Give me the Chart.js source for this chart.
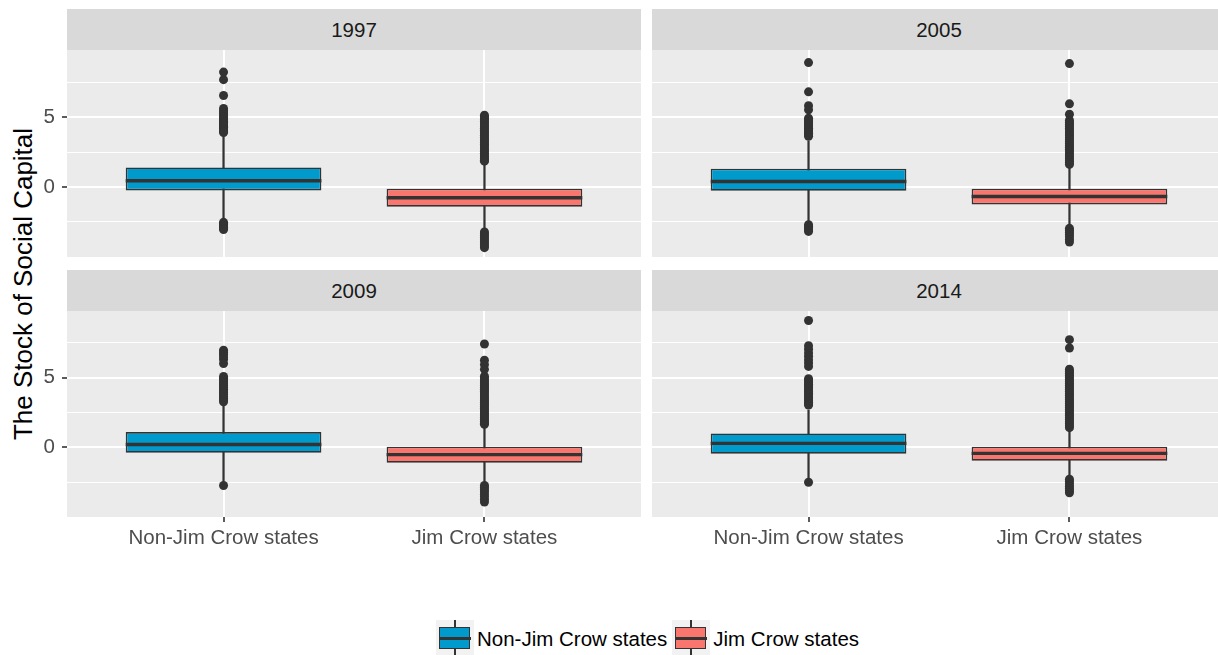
<!DOCTYPE html>
<html>
<head>
<meta charset="utf-8">
<script src="https://cdn.jsdelivr.net/npm/chart.js@4.4.1/dist/chart.umd.min.js"></script>
<style>
  html, body { margin: 0; padding: 0; width: 1218px; height: 655px; overflow: hidden; background: #fff;
    font-family: "Liberation Sans", Arial, Helvetica, sans-serif; }
  .strip { position: absolute; width: 574px; height: 41px; background: #d9d9d9; color: #1a1a1a;
    font-size: 20.5px; line-height: 41px; text-align: center; }
  canvas { position: absolute; }
  #ytitle { position: absolute; width: 470px; height: 30px; line-height: 30px; left: -212px; top: 269px;
    transform: rotate(-90deg); text-align: center; font-size: 26px; color: #000; white-space: nowrap; }
  #legend { position: absolute; left: 436px; top: 620px; height: 37px; display: flex; align-items: center;
    font-size: 20.5px; color: #000; white-space: nowrap; }
  .key { position: relative; width: 38px; height: 37px; background: #f2f2f2; flex: none; }
  .key .wh { position: absolute; left: 18.2px; width: 1.6px; top: 0; bottom: 0; background: #333; }
  .key .bx { position: absolute; left: 3px; width: 29px; top: 7px; height: 20px; border: 1.5px solid #333; }
  .key .md { position: absolute; left: 3px; width: 32px; top: 17px; height: 3px; background: #333; }
  .lab { margin-left: 3px; margin-right: 5px; }
</style>
</head>
<body>
<div class="strip" id="s0" style="left:67px;top:9px"></div>
<div class="strip" id="s1" style="left:652px;top:9px"></div>
<div class="strip" id="s2" style="left:67px;top:270px"></div>
<div class="strip" id="s3" style="left:652px;top:270px"></div>
<canvas id="c0" width="601" height="207" style="left:40px;top:50px"></canvas>
<canvas id="c1" width="574" height="207" style="left:652px;top:50px"></canvas>
<canvas id="c2" width="601" height="246" style="left:40px;top:311px"></canvas>
<canvas id="c3" width="574" height="246" style="left:652px;top:311px"></canvas>
<div id="ytitle">The Stock of Social Capital</div>
<div id="legend"></div>
<script>
// Facet years and the two state groups
const years = ['1997', '2005', '2009', '2014'];
const groups = ['Non-Jim Crow states', 'Jim Crow states'];
const fills = ['#009ACD', '#F8766D'];

// Five-number summaries per year: [Non-Jim Crow, Jim Crow]
const lowerWhisker = [[-2.40, -3.10], [-2.40, -2.80], [-2.45, -2.60], [-2.20, -2.00]];
const lowerHinge   = [[-0.24, -1.40], [-0.26, -1.24], [-0.38, -1.10], [-0.45, -0.95]];
const medians      = [[ 0.45, -0.76], [ 0.40, -0.67], [ 0.21, -0.52], [ 0.29, -0.43]];
const upperHinge   = [[ 1.40, -0.12], [ 1.31, -0.12], [ 1.10,  0.05], [ 1.00,  0.05]];
const upperWhisker = [[ 3.70,  1.75], [ 3.30,  1.40], [ 3.10,  1.55], [ 2.69,  1.25]];

// Outlying observations per year: [Non-Jim Crow, Jim Crow]
const outliers1997 = [
  [8.22, 7.68, 6.55, 5.62, 5.45, 5.31, 5.18, 5.02, 4.93, 4.81, 4.70, 4.62, 4.51, 4.43, 4.34, 4.27, 4.16, 4.08, 3.97, 3.90,
   -2.52, -2.61, -2.70, -2.79, -2.88, -2.97, -3.03],
  [5.14, 5.02, 4.93, 4.81, 4.69, 4.58, 4.44, 4.31, 4.20, 4.07, 3.95, 3.82, 3.70, 3.57, 3.43, 3.31, 3.18, 3.05, 2.93, 2.80,
   2.66, 2.55, 2.41, 2.29, 2.16, 2.04, 1.92, 1.85,
   -3.21, -3.34, -3.47, -3.61, -3.76, -3.90, -4.05, -4.19, -4.33]
];
const outliers2005 = [
  [8.90, 6.81, 5.81, 5.52, 4.92, 4.80, 4.68, 4.55, 4.43, 4.31, 4.20, 4.08, 3.96, 3.85, 3.74, 3.63,
   -2.69, -2.80, -2.93, -3.05, -3.17],
  [8.83, 5.95, 5.21, 4.78, 4.62, 4.49, 4.35, 4.21, 4.08, 3.94, 3.80, 3.67, 3.52, 3.39, 3.25, 3.11, 2.98, 2.84, 2.70,
   2.57, 2.43, 2.30, 2.16, 2.02, 1.89, 1.75, 1.62,
   -2.95, -3.10, -3.24, -3.40, -3.56, -3.74, -3.93]
];
const outliers2009 = [
  [6.98, 6.82, 6.67, 6.49, 6.31, 6.02, 5.10, 4.97, 4.84, 4.70, 4.58, 4.45, 4.31, 4.18, 4.05, 3.92, 3.80, 3.66, 3.53,
   3.40, 3.28, -2.74],
  [7.43, 6.26, 5.95, 5.61, 5.12, 4.98, 4.85, 4.71, 4.58, 4.44, 4.31, 4.17, 4.04, 3.90, 3.77, 3.63, 3.50, 3.36, 3.23,
   3.09, 2.96, 2.82, 2.69, 2.55, 2.42, 2.28, 2.15, 2.01, 1.88, 1.74, 1.66,
   -2.74, -2.88, -3.03, -3.19, -3.36, -3.55, -3.74, -3.93]
];
const outliers2014 = [
  [9.12, 7.31, 7.05, 6.79, 6.55, 6.30, 6.06, 5.82, 4.93, 4.80, 4.67, 4.54, 4.41, 4.28, 4.15, 4.02, 3.89, 3.76, 3.63,
   3.50, 3.37, 3.24, 3.11, 3.05, -2.50],
  [7.74, 7.14, 5.62, 5.48, 5.33, 5.19, 5.04, 4.90, 4.75, 4.61, 4.46, 4.32, 4.17, 4.03, 3.88, 3.74, 3.59, 3.45, 3.30,
   3.16, 3.01, 2.87, 2.72, 2.58, 2.43, 2.29, 2.14, 2.00, 1.85, 1.71, 1.56, 1.42,
   -2.29, -2.45, -2.62, -2.79, -2.95, -3.11, -3.26]
];
const outliers = [outliers1997, outliers2005, outliers2009, outliers2014];

// Shared value axis
const yMin = -5.0, yMax = 9.8;
const yTicks = [-2.5, 0, 2.5, 5, 7.5];
const yLabelled = [0, 5];

const FONT = '"Liberation Sans", Arial, Helvetica, sans-serif';
const BOX_WIDTH = 0.75;   // box width in category units
const INK = '#333333';

// grey panel background behind the grid
const panelBackground = {
  id: 'panelBackground',
  beforeDraw(chart) {
    const a = chart.chartArea, ctx = chart.ctx;
    ctx.save();
    ctx.fillStyle = '#ebebeb';
    ctx.fillRect(a.left, a.top, a.right - a.left, a.bottom - a.top);
    ctx.restore();
  }
};

function halfBox(chart) {
  const x = chart.scales.x;
  return Math.abs(x.getPixelForValue(1 + BOX_WIDTH / 2) - x.getPixelForValue(1));
}

function panel(k, showY, showX) {
  document.getElementById('s' + k).textContent = years[k];
  const boxData = groups.map((g, i) => ({ x: i + 1, y: [lowerHinge[k][i], upperHinge[k][i]] }));
  const whiskerData = groups.map((g, i) => ({ x: i + 1, y: [lowerWhisker[k][i], upperWhisker[k][i]] }));
  const medianData = groups.map((g, i) => ({ x: i + 1, y: medians[k][i] }));
  const outlierData = [];
  outliers[k].forEach((vals, i) => vals.forEach(v => outlierData.push({ x: i + 1, y: v })));

  new Chart(document.getElementById('c' + k), {
    type: 'bar',
    data: {
      datasets: [
        { type: 'scatter', data: outlierData, pointRadius: 4.5, pointHoverRadius: 4.5,
          pointBackgroundColor: INK, pointBorderWidth: 0, order: 0 },
        { type: 'scatter', data: medianData, pointStyle: 'line',
          pointRadius: c => halfBox(c.chart), pointHoverRadius: c => halfBox(c.chart),
          pointBorderColor: INK, pointBorderWidth: 3.4, order: 1 },
        { data: boxData, grouped: false, barPercentage: BOX_WIDTH, categoryPercentage: 1,
          backgroundColor: fills, borderColor: INK, borderWidth: 1.6, borderSkipped: false, order: 2 },
        { data: whiskerData, grouped: false, barThickness: 1.6, backgroundColor: INK, order: 3 }
      ]
    },
    options: {
      responsive: false,
      animation: false,
      events: [],
      layout: { padding: 0, autoPadding: false },
      plugins: { legend: { display: false }, tooltip: { enabled: false } },
      scales: {
        x: {
          type: 'linear', min: 0.4, max: 2.6, offset: false,
          afterBuildTicks: s => { s.ticks = groups.map((g, i) => ({ value: i + 1 })); },
          afterFit: s => { s.height = showX ? 40 : 0; s.paddingLeft = 0; s.paddingRight = 0; },
          border: { display: false },
          grid: { color: '#ffffff', lineWidth: 2, offset: false, drawTicks: showX, tickLength: 5,
                  tickColor: INK, tickWidth: 1.6 },
          ticks: { display: showX, callback: v => groups[v - 1], color: '#4d4d4d',
                   font: { size: 20.5, family: FONT }, padding: 4, maxRotation: 0, autoSkip: false }
        },
        y: {
          type: 'linear', min: yMin, max: yMax,
          afterBuildTicks: s => { s.ticks = yTicks.map(v => ({ value: v })); },
          afterFit: s => { s.width = showY ? 27 : 0; s.paddingTop = 0; s.paddingBottom = 0; },
          border: { display: false },
          grid: { color: '#ffffff',
                  lineWidth: c => (c.tick && yLabelled.includes(c.tick.value)) ? 2 : 1.1,
                  drawTicks: showY, tickLength: 5, tickWidth: 1.6,
                  tickColor: c => (c.tick && yLabelled.includes(c.tick.value)) ? INK : 'rgba(0,0,0,0)' },
          ticks: { display: showY, callback: v => yLabelled.includes(v) ? String(v) : '',
                   color: '#4d4d4d', font: { size: 20.5, family: FONT }, padding: 7 }
        }
      }
    },
    plugins: [panelBackground]
  });
}

panel(0, true, false);
panel(1, false, false);
panel(2, true, true);
panel(3, false, true);

// legend with boxplot keys
const legend = document.getElementById('legend');
groups.forEach((g, i) => {
  const key = document.createElement('div');
  key.className = 'key';
  key.innerHTML = '<div class="wh"></div><div class="bx" style="background:' + fills[i] +
    '"></div><div class="md"></div>';
  const lab = document.createElement('span');
  lab.className = 'lab';
  lab.textContent = g;
  legend.appendChild(key);
  legend.appendChild(lab);
});
</script>
</body>
</html>
